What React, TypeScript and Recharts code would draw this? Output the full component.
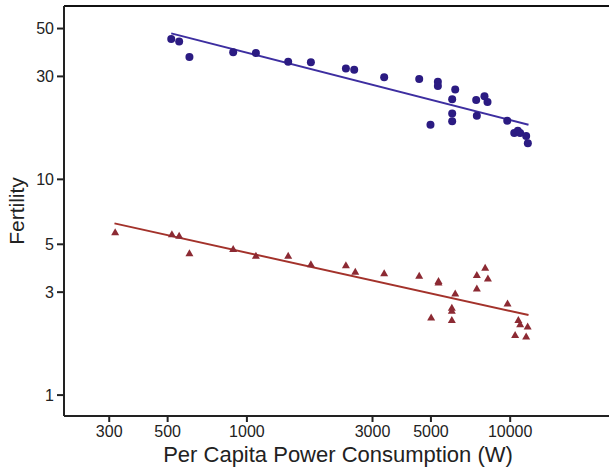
import {
  ScatterChart,
  Scatter,
  XAxis,
  YAxis,
  ReferenceLine,
} from 'recharts'

// upper group (circles)
const circleX = [
  516, 553, 605, 887, 1082, 1435, 1750, 2377, 2556, 3322, 4513, 5313, 5313, 6183,
  6021, 6021, 6021, 4980, 7427, 7986, 8200, 7470, 9746, 10360, 10690, 10910, 11500, 11670,
]
const circleY = [
  44.7, 43.6, 36.9, 38.8, 38.5, 35.1, 34.9, 32.6, 32.2, 29.7, 29.2, 28.3, 27.1, 26.1,
  23.5, 20.2, 18.6, 17.9, 23.3, 24.3, 22.8, 19.7, 18.7, 16.4, 16.8, 16.4, 15.9, 14.7,
]

// lower group (triangles)
const triangleX = [
  316, 519, 553, 605, 887, 1082, 1435, 1750, 2377, 2580, 3322, 4513, 5342, 5342, 6183,
  6003, 6003, 6003, 5010, 7470, 8035, 8230, 7470, 9770, 10740, 10910, 11650, 10440, 11500,
]
const triangleY = [
  5.68, 5.56, 5.48, 4.54, 4.75, 4.42, 4.42, 4.04, 4.0, 3.73, 3.67, 3.57, 3.38, 3.33, 2.96,
  2.54, 2.46, 2.23, 2.29, 3.6, 3.89, 3.47, 3.12, 2.66, 2.23, 2.13, 2.08, 1.9, 1.87,
]

// fitted lines, end points
const circleFitX = [516, 11740]
const circleFitY = [47.5, 17.9]
const triangleFitX = [314, 11740]
const triangleFitY = [6.25, 2.35]

const xTicks = [300, 500, 1000, 3000, 5000, 10000]
const yTicks = [1, 3, 5, 10, 30, 50]

// plot runs past the right edge of the window, like the cropped original
const X_DOMAIN = [202, 31120]
const Y_DOMAIN = [0.8, 63.6]

const zip = (xs: number[], ys: number[]) => xs.map((x, i) => ({ x, y: ys[i] }))

const BLUE = '#2b1b82'
const BLUE_LINE = '#3d2ea0'
const RED = '#8c2a33'
const RED_LINE = '#a3322b'
const FONT = '"Liberation Sans", Arial, sans-serif'

const Dot = (props: any) => (
  <circle cx={props.cx} cy={props.cy} r={4} fill={BLUE} />
)

const Tri = (props: any) => {
  const { cx, cy } = props
  return (
    <polygon
      points={`${cx},${cy - 4} ${cx - 4},${cy + 3} ${cx + 4},${cy + 3}`}
      fill={RED}
    />
  )
}

const Nothing = () => <g />

export default function App() {
  return (
    <div
      style={{
        position: 'absolute',
        left: 0,
        top: 0,
        width: 609,
        height: 471,
        overflow: 'hidden',
        background: '#fff',
        fontFamily: FONT,
      }}
    >
      <ScatterChart
        width={640}
        height={471}
        margin={{ top: 6, right: 0, bottom: 0, left: 0 }}
      >
        <XAxis
          type="number"
          dataKey="x"
          scale="log"
          domain={X_DOMAIN}
          allowDataOverflow
          ticks={xTicks}
          height={55}
          tickSize={6}
          tickMargin={4}
          stroke="#222"
          strokeWidth={2}
          tick={{ fill: '#222', fontSize: 16, fontFamily: FONT }}
          label={{
            value: 'Per Capita Power Consumption (W)',
            position: 'insideBottom',
            offset: 9,
            dx: -14,
            style: { fill: '#222', fontSize: 22, fontFamily: FONT },
          }}
        />
        <YAxis
          type="number"
          dataKey="y"
          scale="log"
          domain={Y_DOMAIN}
          allowDataOverflow
          ticks={yTicks}
          width={64}
          tickSize={7}
          tickMargin={3}
          stroke="#222"
          strokeWidth={2}
          tick={{ fill: '#222', fontSize: 16, fontFamily: FONT }}
          label={{
            value: 'Fertility',
            angle: -90,
            position: 'insideLeft',
            offset: 17,
            style: { fill: '#222', fontSize: 21, fontFamily: FONT, textAnchor: 'middle' },
          }}
        />
        <ReferenceLine y={Y_DOMAIN[1]} stroke="#111" strokeWidth={2} />
        <Scatter
          data={zip(circleFitX, circleFitY)}
          line={{ stroke: BLUE_LINE, strokeWidth: 2 }}
          shape={Nothing}
          isAnimationActive={false}
        />
        <Scatter
          data={zip(triangleFitX, triangleFitY)}
          line={{ stroke: RED_LINE, strokeWidth: 2 }}
          shape={Nothing}
          isAnimationActive={false}
        />
        <Scatter
          data={zip(circleX, circleY)}
          shape={Dot}
          isAnimationActive={false}
        />
        <Scatter
          data={zip(triangleX, triangleY)}
          shape={Tri}
          isAnimationActive={false}
        />
      </ScatterChart>
    </div>
  )
}
